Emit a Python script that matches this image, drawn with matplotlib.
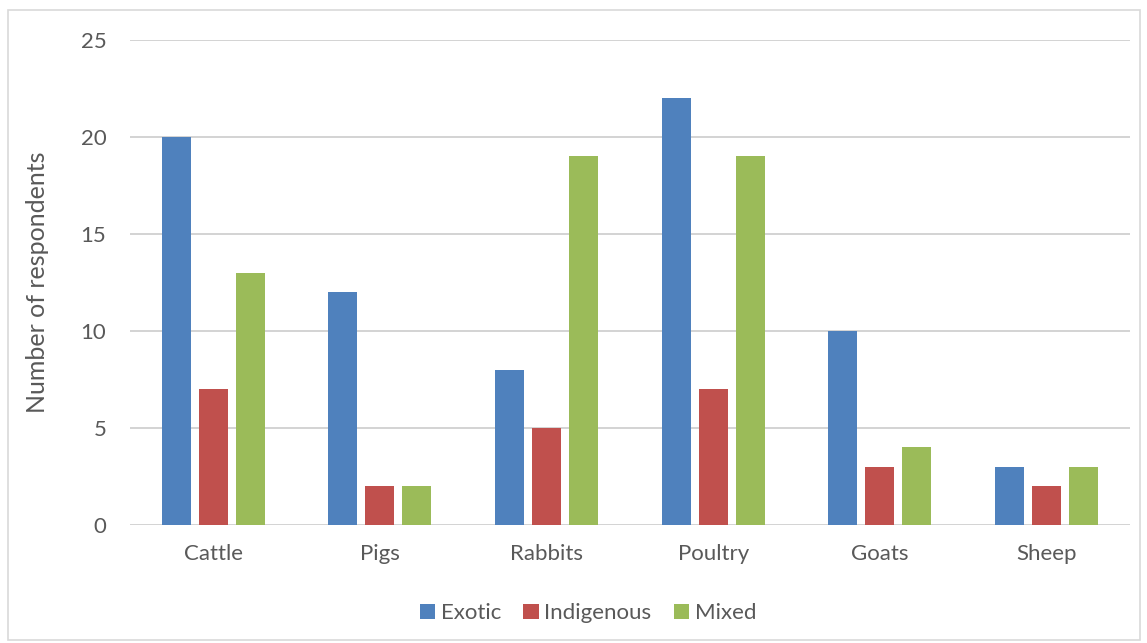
import matplotlib.pyplot as plt
import numpy as np
from matplotlib.patches import Rectangle

# livestock breed types kept by respondents
categories = ["Cattle", "Pigs", "Rabbits", "Poultry", "Goats", "Sheep"]
exotic = [20, 12, 8, 22, 10, 3]
indigenous = [7, 2, 5, 7, 3, 2]
mixed = [13, 2, 19, 19, 4, 3]
series_names = ["Exotic", "Indigenous", "Mixed"]
colors = ["#4F81BD", "#C0504D", "#9BBB59"]

plt.rcParams['font.family'] = ['Lato', 'DejaVu Sans']
text_color = "#595959"

fig = plt.figure(figsize=(11.47, 6.43), dpi=100)
ax = fig.add_axes([0.1133, 0.1835, 0.8718, 0.7543])

x = np.arange(len(categories))
width = 0.174
step = 0.222
for i, (vals, name, c) in enumerate(zip([exotic, indigenous, mixed], series_names, colors)):
    ax.bar(x + (i - 1) * step, vals, width, color=c, label=name, zorder=3)

ax.set_xlim(-0.5, len(categories) - 0.5)
ax.set_ylim(0, 25)
ax.set_yticks(range(0, 26, 5))
ax.set_xticks(x)
ax.set_xticklabels(categories)
ax.grid(axis='y', color="#d0d0d0", linewidth=1.3, zorder=0)
for s in ax.spines.values():
    s.set_visible(False)
ax.tick_params(length=0, labelsize=16, colors=text_color)
ax.tick_params(axis='x', pad=14)
ax.tick_params(axis='y', pad=17)
ax.set_ylabel("Number of respondents", fontsize=18, color=text_color, labelpad=23)

leg = ax.legend(loc='upper center', bbox_to_anchor=(0.458, -0.12), ncol=3, frameon=False,
                fontsize=16, handlelength=0.7, handleheight=0.7, handletextpad=0.25,
                columnspacing=1.0)
for t in leg.get_texts():
    t.set_color(text_color)

# outer chart border
fig.patches.append(Rectangle((8 / 1147, 3 / 643), 1132 / 1147, 630 / 643,
                             transform=fig.transFigure, fill=False,
                             edgecolor="#d9d9d9", linewidth=1.2))

fig.savefig("out.png", dpi=100)
